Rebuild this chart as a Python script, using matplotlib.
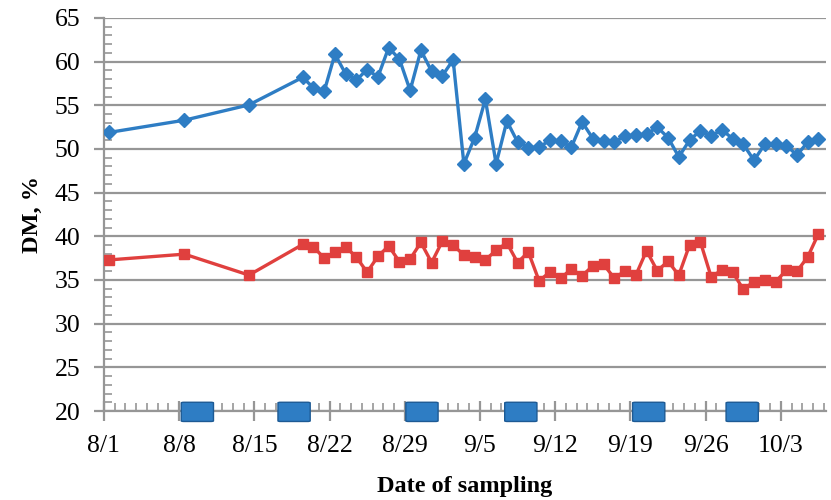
import matplotlib
matplotlib.use("Agg")
import matplotlib.pyplot as plt
from matplotlib.patches import FancyBboxPatch
from matplotlib.ticker import MultipleLocator

# Sampling days, counted from 8/1
sample_day = [0, 7, 13] + list(range(18, 67))

# Dry matter, %
dm_blue = [51.9, 53.3, 55.05,
           58.2, 57.0, 56.6, 60.85, 58.6, 57.9, 59.1, 58.25, 61.6, 60.3,
           56.7, 61.3, 58.9, 58.4, 60.2, 48.3, 51.3, 55.7, 48.3, 53.2,
           50.8, 50.15, 50.2, 51.0, 50.9, 50.2, 53.1, 51.2, 50.9, 50.8,
           51.5, 51.6, 51.7, 52.5, 51.3, 49.1, 51.0, 52.1, 51.5, 52.2,
           51.2, 50.55, 48.7, 50.55, 50.55, 50.4, 49.3, 50.8, 51.1]
dm_red = [37.3, 37.96, 35.56,
          39.07, 38.8, 37.5, 38.2, 38.8, 37.6, 35.9, 37.7, 38.9, 37.1,
          37.4, 39.3, 37.0, 39.45, 39.0, 37.85, 37.65, 37.3, 38.4, 39.25,
          37.0, 38.2, 34.9, 35.9, 35.2, 36.25, 35.5, 36.6, 36.8, 35.2,
          36.05, 35.55, 38.35, 36.05, 37.15, 35.55, 39.0, 39.4, 35.4, 36.1,
          35.9, 33.95, 34.8, 35.0, 34.8, 36.1, 36.0, 37.65, 40.3]

# Periods marked along the date axis (start day, length in days)
period_start = [7.2, 16.2, 28.1, 37.3, 49.2, 57.9]
period_len = [3.0, 3.0, 3.0, 3.0, 3.0, 3.0]

tick_labels = ["8/1", "8/8", "8/15", "8/22", "8/29", "9/5", "9/12",
               "9/19", "9/26", "10/3"]

blue = "#2E7DC4"
red = "#E0403E"
grid_col = "#969696"

plt.rcParams["font.family"] = ["Liberation Serif", "DejaVu Serif"]

fig = plt.figure(figsize=(8.31, 5.0), dpi=100)
ax = fig.add_axes([0.125, 0.178, 0.869, 0.786])

# points sit in the middle of each day slot
x = [d + 0.5 for d in sample_day]
ax.plot(x, dm_blue, color=blue, lw=2.4, marker="D", ms=7.5, zorder=4)
ax.plot(x, dm_red, color=red, lw=2.4, marker="s", ms=7.5, zorder=4)

for s, w in zip(period_start, period_len):
    box = FancyBboxPatch((s, 18.8), w, 2.2,
                         boxstyle="round,pad=0,rounding_size=0.25",
                         mutation_aspect=0.3,
                         facecolor=blue, edgecolor="#1d5a94", lw=1.0,
                         clip_on=False, zorder=6)
    ax.add_patch(box)

ax.set_xlim(0, 67.2)
ax.set_ylim(20, 65)
ax.set_xticks([7 * i for i in range(len(tick_labels))])
ax.set_xticklabels(tick_labels)
ax.xaxis.set_minor_locator(MultipleLocator(1))
ax.set_yticks(range(20, 66, 5))
ax.yaxis.set_minor_locator(MultipleLocator(1))

ax.grid(axis="y", which="major", color=grid_col, lw=1.6, zorder=1)
for side in ["top", "right"]:
    ax.spines[side].set_visible(False)
for side in ["left", "bottom"]:
    ax.spines[side].set_color(grid_col)
    ax.spines[side].set_linewidth(1.6)

ax.tick_params(axis="y", which="major", direction="out", length=7,
               width=1.6, color=grid_col, labelsize=18.5, pad=10)
ax.tick_params(axis="y", which="minor", direction="in", length=6,
               width=1.2, color=grid_col)
ax.tick_params(axis="x", which="major", direction="inout", length=14,
               width=1.6, color=grid_col, labelsize=18.5, pad=10)
ax.tick_params(axis="x", which="minor", direction="in", length=6,
               width=1.2, color=grid_col)

ax.set_xlabel("Date of sampling", fontsize=17.5, fontweight="bold", labelpad=14)
ax.set_ylabel("DM, %", fontsize=17.5, fontweight="bold", labelpad=8)

fig.savefig("out.png", dpi=100)
